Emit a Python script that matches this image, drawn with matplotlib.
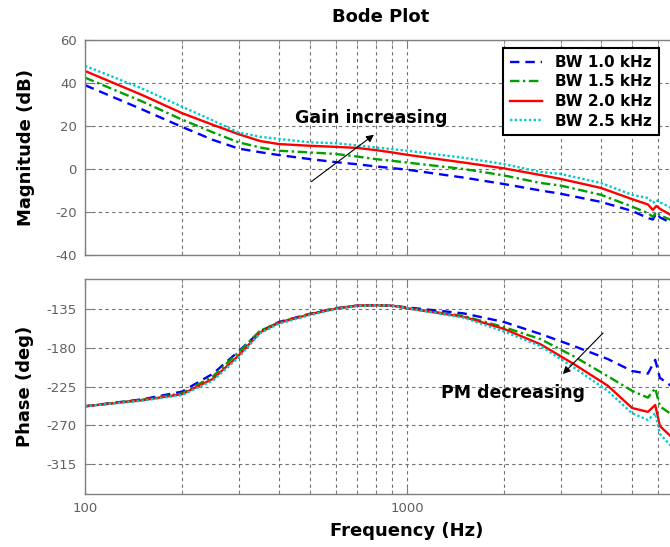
import matplotlib
matplotlib.use("Agg")
import matplotlib.pyplot as plt
from matplotlib.lines import Line2D
from matplotlib.ticker import FixedLocator, NullFormatter, FixedFormatter

plt.rcParams['font.family'] = ['DejaVu Sans']
plt.rcParams['axes.unicode_minus'] = False

# ---------------- data ----------------
freq_mag = [100, 150, 200, 250, 300, 350, 400, 500, 600, 700, 800, 900, 1000,
            1500, 2000, 2600, 3000, 4000, 5000, 5600, 5800, 5950, 6100, 6600, 7000]
mag_bw10 = [39.0, 27.8, 19.6, 13.5, 9.5, 7.8, 6.5, 4.6, 3.2, 2.2, 1.2, 0.4, -0.3,
            -4.0, -7.0, -10.0, -11.5, -15.3, -19.5, -22.8, -23.5, -20.5, -22.5, -25.0, -26.5]
mag_bw15 = [42.5, 31.5, 23.0, 17.0, 12.4, 10.0, 8.5, 7.7, 7.0, 5.8, 4.6, 3.8, 3.0,
            0.0, -3.0, -6.5, -7.7, -12.0, -17.5, -20.5, -22.3, -20.0, -21.5, -23.7, -25.0]
mag_bw20 = [45.6, 34.5, 26.0, 20.5, 16.2, 13.0, 11.6, 10.8, 10.3, 9.8, 8.8, 7.7, 6.6,
            3.0, 0.3, -2.8, -4.6, -8.8, -14.0, -16.5, -19.0, -17.2, -18.5, -21.4, -23.0]
mag_bw25 = [48.0, 37.5, 29.0, 22.5, 17.0, 15.0, 14.0, 12.4, 12.0, 11.0, 10.0, 9.2, 8.5,
            5.2, 2.3, -1.4, -2.3, -6.5, -12.0, -13.5, -15.8, -14.4, -15.5, -18.0, -19.5]

freq_ph = [100, 150, 200, 250, 300, 350, 400, 500, 600, 700, 800, 900, 1000,
           1500, 2000, 2600, 3300, 4200, 5000, 5600, 5900, 6100, 6600, 7000]
ph_bw10 = [-248, -240, -231, -210, -184, -161, -150, -140.5, -134, -131, -130.5, -131, -133,
           -140, -150, -164, -178, -193, -207, -210, -194, -215, -224, -230]
ph_bw15 = [-248, -240.5, -233, -213, -185, -160, -150.5, -140.5, -134, -131, -130.5, -131, -134,
           -143, -156, -170, -190, -213, -230, -238, -227, -248, -257, -262]
ph_bw20 = [-248, -241, -234, -216, -189, -162, -151, -141, -134.5, -131, -130.5, -131, -134,
           -144, -158, -176, -199, -224, -250, -254.5, -246.5, -271, -283, -290]
ph_bw25 = [-248, -241.5, -235, -218, -191, -163, -152, -142, -135, -131.5, -130.5, -131, -134,
           -145, -161, -178, -203, -230, -256, -264, -256, -280, -294, -300]

labels = ['BW 1.0 kHz', 'BW 1.5 kHz', 'BW 2.0 kHz', 'BW 2.5 kHz']
mag_ticks = [-40, -20, 0, 20, 40, 60]
ph_ticks = [-315, -270, -225, -180, -135]
x_major = [100, 1000, 10000]
x_major_labels = ['100', '1000', '']

# ---------------- style ----------------
colors = ['#0000FF', '#00A000', '#FF0000', '#00CCCC']
styles = [(0, (4, 2.5)), (0, (4, 1.5, 1, 1.5)), '-', (0, (1, 1))]
lws = [1.7, 1.7, 1.7, 1.7]
W, H = 670, 547
grid_kw = dict(color='#707070', linestyle=(0, (3, 3)), linewidth=0.8)
tick_col = '#606060'
spine_col = '#808080'

fig = plt.figure(figsize=(W / 100, H / 100), dpi=100)
ax1 = fig.add_axes([85 / W, 1 - 255 / H, 644 / W, 215 / H])
ax2 = fig.add_axes([85 / W, 1 - 494 / H, 644 / W, 215 / H])

for y, ax in [((mag_bw10, mag_bw15, mag_bw20, mag_bw25), ax1),
              ((ph_bw10, ph_bw15, ph_bw20, ph_bw25), ax2)]:
    f = freq_mag if ax is ax1 else freq_ph
    for yy, c, s, lw in zip(y, colors, styles, lws):
        ax.plot(f, yy, color=c, linestyle=s, linewidth=lw)

for ax in (ax1, ax2):
    ax.set_xscale('log')
    ax.set_xlim(100, 10000)
    ax.xaxis.set_major_locator(FixedLocator(x_major))
    minors = [m * d for d in (100, 1000) for m in range(2, 10)]
    ax.xaxis.set_minor_locator(FixedLocator(minors))
    ax.xaxis.set_minor_formatter(NullFormatter())
    ax.grid(True, which='both', axis='x', **grid_kw)
    ax.grid(True, which='major', axis='y', **grid_kw)
    ax.tick_params(which='both', direction='in', top=True, right=True,
                   colors=spine_col, labelcolor=tick_col, labelsize=9.5, pad=6)
    ax.tick_params(which='major', length=5)
    ax.tick_params(which='minor', length=3)
    for sp in ax.spines.values():
        sp.set_color(spine_col)
        sp.set_linewidth(1.0)
    ax.set_axisbelow(True)

ax1.set_ylim(-40, 60)
ax1.set_yticks(mag_ticks)
ax1.xaxis.set_major_formatter(NullFormatter())
ax2.set_ylim(-350, -100)
ax2.set_yticks(ph_ticks)
ax2.xaxis.set_major_formatter(FixedFormatter(x_major_labels))

# legend
handles = [Line2D([], [], color=c, linestyle=s, linewidth=lw)
           for c, s, lw in zip(colors, styles, lws)]
leg = ax1.legend(handles, labels, loc='upper left',
                 bbox_to_anchor=(503 / W, 1 - 48 / H), bbox_transform=fig.transFigure,
                 prop=dict(weight='bold', size=11), frameon=True, fancybox=False,
                 borderpad=0.45, handlelength=2.1, handletextpad=0.85, labelspacing=0.3,
                 borderaxespad=0)
leg.get_frame().set_edgecolor('black')
leg.get_frame().set_linewidth(1.5)
leg.get_frame().set_alpha(1)

# annotations
ax1.annotate('', xy=(802, 16.7), xytext=(497, -6.6),
             arrowprops=dict(arrowstyle='-|>', color='black', lw=0.8, mutation_scale=11))
ax1.text(776, 23.5, 'Gain increasing', ha='center', va='center',
         fontsize=12.5, fontweight='bold')
ax2.annotate('', xy=(3006, -212.8), xytext=(4120, -160.5),
             arrowprops=dict(arrowstyle='-|>', color='black', lw=0.8, mutation_scale=11))
ax2.text(2133, -232.6, 'PM decreasing', ha='center', va='center',
         fontsize=12.5, fontweight='bold')

# titles / labels
fig.text(381 / W, 1 - 17.5 / H, 'Bode Plot', ha='center', va='center',
         fontsize=13, fontweight='bold')
fig.text(407 / W, 1 - 531 / H, 'Frequency (Hz)', ha='center', va='center',
         fontsize=13, fontweight='bold')
fig.text(26 / W, 1 - 147.5 / H, 'Magnitude (dB)', ha='center', va='center',
         rotation=90, fontsize=13, fontweight='bold')
fig.text(25 / W, 1 - 386.5 / H, 'Phase (deg)', ha='center', va='center',
         rotation=90, fontsize=13, fontweight='bold')

fig.savefig('out.png', dpi=100)
